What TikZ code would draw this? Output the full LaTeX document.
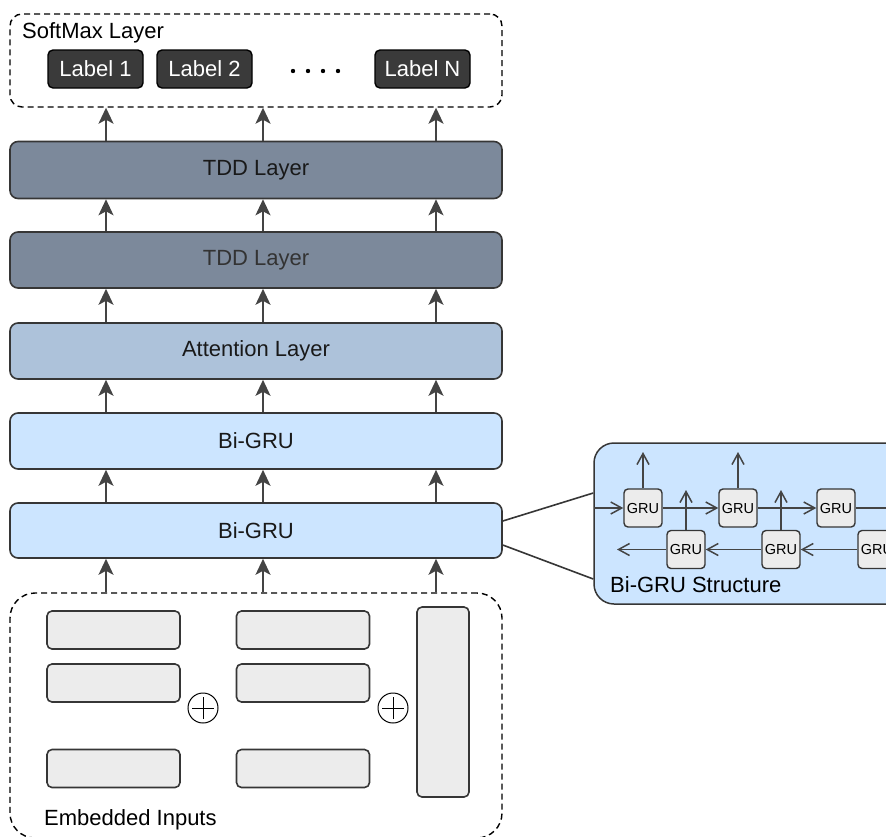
\documentclass[tikz,border=0pt]{standalone}
\usepackage{fontspec}
\setmainfont{Liberation Sans}
\usetikzlibrary{arrows.meta,calc}
\definecolor{strokec}{HTML}{363636}
\definecolor{arrowc}{HTML}{444444}
\definecolor{labelfill}{HTML}{3A3A3A}
\definecolor{tddfill}{HTML}{7C899B}
\definecolor{attfill}{HTML}{ADC2DA}
\definecolor{grufill}{HTML}{CCE5FF}
\definecolor{boxfill}{HTML}{ECECEC}
\begin{document}
\begin{tikzpicture}[x=1pt,y=-1pt,
  bigfont/.style={font=\fontsize{22}{26}\selectfont},
  layer/.style={draw=strokec, line width=1.6pt, rounded corners=8pt, minimum width=492pt, inner sep=0pt, bigfont, text=black!90},
  dashbox/.style={draw=black, line width=1.4pt, dash pattern=on 6pt off 4pt, inner sep=0pt},
  lbl/.style={draw=black, fill=labelfill, line width=1.4pt, rounded corners=5pt, minimum width=95pt, minimum height=38pt, inner sep=0pt, text=white, bigfont},
  embr/.style={draw=strokec, fill=boxfill, line width=1.6pt, rounded corners=5pt, inner sep=0pt},
  grubox/.style={draw=strokec, fill=boxfill, line width=1.4pt, rounded corners=4pt, minimum width=38pt, minimum height=38pt, inner sep=0pt, font=\fontsize{14.5}{17}\selectfont},
  arr/.style={draw=arrowc, line width=2pt, -{Stealth[length=16pt,width=15pt,inset=4pt]}},
  thin/.style={draw=arrowc, line width=1.5pt, -{Straight Barb[length=11pt,width=12pt]}}
]
\useasboundingbox (0,0) rectangle (886,836);
\clip (0,0) rectangle (886,836);

% x positions of vertical arrows
\coordinate (xa) at (106,0);
\coordinate (xb) at (263,0);
\coordinate (xc) at (436,0);

% SoftMax layer
\node[dashbox, rounded corners=12pt, minimum width=492pt, minimum height=93pt] (soft) at (256,60.5) {};
\node[anchor=west, bigfont, inner sep=0pt] (softt) at (22,33) {SoftMax Layer};
\node[lbl] (l1) at (95.5,69) {Label 1};
\node[lbl] (l2) at (204.5,69) {Label 2};
\node[lbl] (ln) at (422.5,69) {Label N};
\foreach \xx in {293,308,323,338} \fill[black] (\xx,71) circle (2.2pt);

% layers
\node[layer, fill=tddfill, minimum height=57pt] (tdd1) at (256,170) {TDD Layer};
\node[layer, fill=tddfill, minimum height=56pt, text=black!80] (tdd2) at (256,260) {TDD Layer};
\node[layer, fill=attfill, minimum height=56pt] (att) at (256,351) {Attention Layer};
\node[layer, fill=grufill, minimum height=56pt] (bg1) at (256,441) {Bi-GRU};
\node[layer, fill=grufill, minimum height=55pt] (bg2) at (256,530.5) {Bi-GRU};

% Embedded inputs
\node[dashbox, rounded corners=25pt, minimum width=492pt, minimum height=245pt] (emb) at (256,715.5) {};
\node[anchor=west, bigfont, inner sep=0pt] (embt) at (44,820) {Embedded Inputs};
\node[embr, minimum width=133pt, minimum height=38pt] (e11) at (113.5,630) {};
\node[embr, minimum width=133pt, minimum height=38pt] (e12) at (113.5,683) {};
\node[embr, minimum width=133pt, minimum height=38pt] (e13) at (113.5,768.5) {};
\node[embr, minimum width=133pt, minimum height=38pt] (e21) at (303,630) {};
\node[embr, minimum width=133pt, minimum height=38pt] (e22) at (303,683) {};
\node[embr, minimum width=133pt, minimum height=38pt] (e23) at (303,768.5) {};
\node[embr, minimum width=52pt, minimum height=190pt] (tall) at (443,702) {};
\node[circle, draw=black, line width=1pt, minimum size=30pt, inner sep=0pt] (p1) at (203,708) {};
\node[circle, draw=black, line width=1pt, minimum size=30pt, inner sep=0pt] (p2) at (393,708) {};
\foreach \p in {p1,p2} {
  \draw[line width=1pt] ($(\p.center)+(-11,0)$) -- ($(\p.center)+(11,0)$);
  \draw[line width=1pt] ($(\p.center)+(0,-11)$) -- ($(\p.center)+(0,11)$);
}

% vertical arrows
\foreach \xx in {xa,xb,xc} {
  \draw[arr] (tdd1.north -| \xx) -- (soft.south -| \xx);
  \draw[arr] (tdd2.north -| \xx) -- (tdd1.south -| \xx);
  \draw[arr] (att.north -| \xx) -- (tdd2.south -| \xx);
  \draw[arr] (bg1.north -| \xx) -- (att.south -| \xx);
  \draw[arr] (bg2.north -| \xx) -- (bg1.south -| \xx);
  \draw[arr] (emb.north -| \xx) -- (bg2.south -| \xx);
}

% Bi-GRU structure
\node[draw=strokec, fill=grufill, line width=1.5pt, rounded corners=20pt, minimum width=316pt, minimum height=161pt, inner sep=0pt] (bgs) at (752,523.5) {};
\node[anchor=west, bigfont, inner sep=0pt] (bgst) at (610,585) {Bi-GRU Structure};
\draw[strokec, line width=1.6pt] ($(bg2.east)+(0,-9.5)$) -- ($(bgs.west)+(0,-30.5)$);
\draw[strokec, line width=1.6pt] ($(bg2.east)+(0,14.5)$) -- ($(bgs.west)+(0,55.5)$);

\node[grubox] (g1) at (643,508) {GRU};
\node[grubox] (g2) at (738,508) {GRU};
\node[grubox] (g3) at (836,508) {GRU};
\node[grubox] (h1) at (686,549.5) {GRU};
\node[grubox] (h2) at (781,549.5) {GRU};
\node[grubox] (h3) at (877,549.5) {GRU};

\coordinate (fin) at (594,508);
\coordinate (fout) at (900,508);
\coordinate (bout) at (617,549.5);
\coordinate (u1) at (643,452);
\coordinate (u2) at (738,452);
\coordinate (v1) at (686,490);
\coordinate (v2) at (781,490);

\draw[thin] (fin) -- (g1.west);
\draw[thin] (g1.east) -- (g2.west);
\draw[thin] (g2.east) -- (g3.west);
\draw[thin] (g3.east) -- (fout);
\draw[thin] (g1.north) -- (u1);
\draw[thin] (g2.north) -- (u2);
\draw[thin] (h1.north) -- (v1);
\draw[thin] (h2.north) -- (v2);
\draw[thin] (h3.west) -- (h2.east);
\draw[thin] (h2.west) -- (h1.east);
\draw[thin] (h1.west) -- (bout);
\end{tikzpicture}
\end{document}
